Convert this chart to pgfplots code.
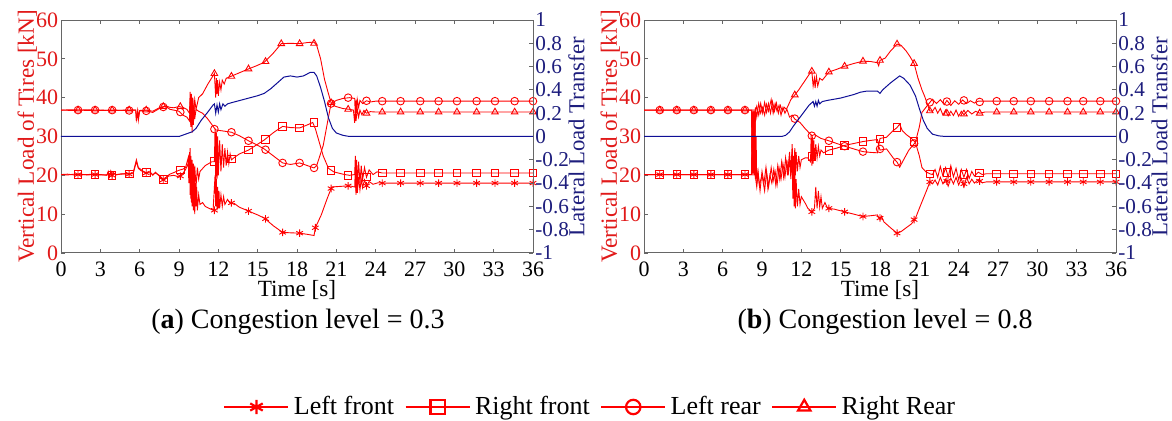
\documentclass[border=0pt]{standalone}
\usepackage{pgfplots}
\pgfplotsset{compat=1.18}
\usepackage{fontspec}
\setmainfont{Liberation Serif}
\definecolor{cred}{RGB}{255,0,0}
\definecolor{tred}{RGB}{225,25,25}
\definecolor{cblue}{RGB}{15,15,150}
\definecolor{tblue}{RGB}{30,30,125}
\pgfplotsset{
  panel/.style={scale only axis, width=236pt, height=116.5pt, xmin=0, xmax=36,
    /pgf/number format/assume math mode=true,
    tick align=inside, major tick length=2.2pt,
    every tick/.style={black!60, line width=0.4pt},
    axis line style={black!60, line width=0.5pt},
    tick label style={font=\fontsize{11}{12}\selectfont},
    label style={font=\fontsize{11.6}{13}\selectfont}},
  leftpanel/.style={panel, ymin=0, ymax=60, ytick={0,10,...,60}, xtick={0,3,...,36},
    axis y line*=left, yticklabel style={text=tred, inner xsep=1.2pt},
    xticklabel style={yshift=-1pt},
    every axis y label/.style={at={(axis description cs:-0.036,0.5)}, rotate=90, anchor=south,
      text=tred, font=\fontsize{11.6}{13}\selectfont},
    xlabel={Time [s]}, ylabel={Vertical Load of Tires [kN]},
    xlabel style={yshift=5pt}},
  rightpanel/.style={panel, ymin=-1, ymax=1,
    ytick={-1,-0.8,-0.6,-0.4,-0.2,0,0.2,0.4,0.6,0.8,1},
    axis y line*=right, axis x line=none,
    yticklabel style={text=tblue, inner xsep=1pt, font=\fontsize{10.6}{12}\selectfont},
    every axis y label/.style={at={(axis description cs:1.06,0.5)}, rotate=90, anchor=north,
      text=tblue, font=\fontsize{11.4}{13}\selectfont},
    ylabel={Lateral Load Transfer}},
  ln/.style={cred, line width=0.45pt, no markers, forget plot},
  mk/.style={cred, only marks, mark size=1.9pt, forget plot, mark options={line width=0.45pt, solid}},
  legimg/.style={cred, line width=1.4pt, mark size=3.6pt, mark options={line width=1.1pt, solid}},
}
\begin{document}
\begin{tikzpicture}
\useasboundingbox (0,0) rectangle (586pt,210.5pt);
% ---------------- panel (a) ----------------
\begin{axis}[leftpanel, at={(30.5pt,84pt)}, anchor=south west,
  legend columns=4,
  legend style={draw=none, fill=none, font=\fontsize{13}{14}\selectfont,
    at={(1.123,-0.661)}, anchor=center,
    /tikz/every even column/.append style={column sep=3pt}},
  legend image code/.code={\draw[mark repeat=2,mark phase=2,#1] plot coordinates {(0pt,0pt)(16pt,0pt)(32pt,0pt)};}]
\addlegendimage{legimg, mark=asterisk}\addlegendentry{Left front}
\addlegendimage{legimg, mark=square}\addlegendentry{Right front}
\addlegendimage{legimg, mark=o}\addlegendentry{Left rear}
\addlegendimage{legimg, mark=triangle}\addlegendentry{Right Rear}
% Left front
\addplot[ln] coordinates {(0,20.2)(0.5,20.3)(1,20.1)(1.5,20.3)(2,20.1)(2.5,20.2)(3,20.2)(3.5,20.0)(3.6,21.0)(3.7,19.6)(3.8,20.9)(3.9,19.8)(4.0,20.7)(4.2,20.1)(4.6,20.4)(5.0,20.3)(5.5,20.6)(5.75,24.0)(5.9,22.0)(6.1,21.5)(6.4,20.6)(6.8,20.9)(7.0,20.0)(7.2,20.8)(7.5,19.8)(7.8,18.7)(8.0,19.2)(8.2,19.8)(8.6,20.0)(9.0,19.6)(9.3,20.5)(9.5,21.5)(9.7,23)(9.8,19.5)(9.85,27)(9.9,14)(9.95,24)(10.0,12)(10.05,22)(10.1,11)(10.15,20)(10.2,10)(10.25,18)(10.3,12)(10.35,17)(10.4,11)(10.5,15)(10.6,12.5)(10.8,13)(11.0,12)(11.3,11.5)(11.6,11)(11.75,20)(11.8,12)(11.85,19)(11.9,11)(11.95,17)(12.0,11.5)(12.05,16)(12.1,11.5)(12.2,15)(12.3,12)(12.4,14.5)(12.5,12.5)(12.7,13.8)(12.9,12.8)(13.2,12.8)(13.6,11.8)(14.3,10.8)(15.0,9.8)(15.5,9.0)(16.2,7.0)(16.9,5.3)(17.5,5.2)(18.2,5.1)(18.8,4.8)(19.3,4.5)(19.4,6.5)(19.85,9.8)(20.3,14)(20.65,17)(21.5,17.2)(22.0,17.3)(22.4,17.0)(22.45,22)(22.5,15)(22.55,20.5)(22.6,15.5)(22.7,19.5)(22.8,16.2)(22.9,19.0)(23.0,16.8)(23.15,18.8)(23.3,17.2)(23.5,18.4)(23.8,17.7)(24.2,18.1)(24.5,18.0)(36,18.0)};
\addplot[mk, mark=asterisk] coordinates {(1.3,20.2)(2.6,20.2)(3.9,20.0)(5.2,20.3)(6.5,20.6)(7.8,18.8)(9.1,19.8)(11.7,11.0)(13.0,12.9)(14.3,10.8)(15.6,8.8)(16.9,5.3)(18.2,5.1)(19.4,6.5)(20.6,16.6)(21.9,17.3)(23.3,17.3)(24.5,18)(25.9,18)(27.4,18)(28.8,18)(30.2,18)(31.7,18)(33.1,18)(34.6,18)(36,18)};
% Right front
\addplot[ln] coordinates {(0,20.2)(0.5,20.1)(1,20.3)(1.5,20.1)(2,20.2)(2.5,20.3)(3,20.1)(3.5,20.1)(3.6,20.8)(3.7,19.7)(3.8,21.1)(3.9,19.9)(4.0,20.6)(4.2,20.2)(4.6,20.3)(5.0,20.5)(5.5,20.4)(5.75,23.5)(5.9,21.8)(6.1,21.2)(6.4,20.8)(6.8,20.6)(7.0,20.2)(7.2,20.6)(7.5,20.0)(7.8,19.0)(8.0,19.5)(8.3,20.3)(8.6,20.7)(9.0,21.3)(9.3,21.6)(9.5,22)(9.7,24.5)(9.75,18)(9.8,26)(9.85,15)(9.9,25)(9.95,13)(10.0,24)(10.05,14)(10.1,23)(10.15,15.5)(10.2,22.5)(10.3,17)(10.4,22)(10.5,19)(10.6,21)(11.0,22.5)(11.5,23.5)(11.7,23.5)(11.75,32)(11.8,18)(11.85,31)(11.9,19)(11.95,30)(12.0,20)(12.1,29)(12.2,21)(12.3,28)(12.4,22)(12.5,27)(12.6,22.5)(12.7,26)(12.8,23)(12.9,25.5)(13.0,24)(13.3,24.8)(13.6,25.5)(14.3,26.5)(14.9,27.8)(15.5,29.1)(16.2,31)(16.9,32.6)(17.5,32.3)(18.2,32.2)(18.8,33.0)(19.2,33.6)(19.4,32)(20.0,25)(20.4,21.8)(20.8,20.9)(21.5,20.3)(22.0,20.0)(22.4,20.2)(22.45,25)(22.5,16)(22.55,24)(22.6,17)(22.7,23.5)(22.8,18)(22.9,22.5)(23.0,18.8)(23.15,22)(23.3,19.5)(23.5,21.4)(23.8,20.2)(24.1,20.9)(24.5,20.6)(36,20.6)};
\addplot[mk, mark=square] coordinates {(1.3,20.2)(2.6,20.2)(3.9,20.0)(5.2,20.4)(6.5,20.8)(7.8,19.0)(9.1,21.4)(11.7,23.5)(13.0,24.2)(14.3,26.5)(15.6,29.3)(16.9,32.6)(18.2,32.2)(19.3,33.6)(20.6,21.2)(21.9,20.0)(23.3,19.6)(24.5,20.6)(25.9,20.6)(27.4,20.6)(28.8,20.6)(30.2,20.6)(31.7,20.6)(33.1,20.6)(34.6,20.6)(36,20.6)};
% Left rear
\addplot[ln] coordinates {(0,36.8)(1,36.7)(2,36.9)(3,36.7)(4,36.8)(5,36.7)(5.7,36.8)(5.75,34)(5.85,36.5)(5.9,34.2)(6.0,36.6)(6.5,36.6)(7.0,36.2)(7.5,37.2)(8.0,37.8)(8.3,37.0)(8.6,36.8)(9.0,36.5)(9.3,35.5)(9.6,35)(9.8,34)(9.85,39)(9.9,32.5)(9.95,40.5)(10.0,31)(10.05,39.5)(10.1,33)(10.15,38)(10.2,34.5)(10.3,37)(10.5,36.5)(10.8,36)(11.2,34.5)(11.8,31.7)(12.4,31.4)(13.0,31.1)(13.6,30.2)(14.3,28.9)(14.9,27.9)(15.5,26.8)(16.2,25)(16.9,23.2)(17.5,22.8)(18.2,23.2)(18.8,22.5)(19.3,21.9)(19.5,22.5)(20.0,27.7)(20.4,35)(20.6,38.5)(21.0,39.3)(21.5,39.8)(22.0,40.0)(22.4,39.8)(22.45,35)(22.5,39.5)(22.55,36)(22.6,39.5)(22.7,37.5)(22.8,39.3)(23.0,38.5)(23.3,39.2)(23.6,38.9)(24,39.1)(36,39.1)};
\addplot[mk, mark=o] coordinates {(1.3,36.8)(2.6,36.8)(3.9,36.8)(5.2,36.7)(6.5,36.6)(7.8,37.6)(9.1,36.3)(11.7,31.9)(13.0,31.1)(14.3,28.9)(15.6,26.6)(16.9,23.2)(18.2,23.2)(19.3,21.9)(20.6,38.5)(21.9,40.0)(23.3,39.2)(24.5,39.1)(25.9,39.1)(27.4,39.1)(28.8,39.1)(30.2,39.1)(31.7,39.1)(33.1,39.1)(34.6,39.1)(36,39.1)};
% Right rear
\addplot[ln] coordinates {(0,36.8)(1,36.9)(2,36.7)(3,36.8)(4,36.7)(5,36.8)(5.7,36.8)(5.75,34.5)(5.85,36.6)(5.9,34.8)(6.0,36.7)(6.5,36.8)(7.0,36.5)(7.5,37.4)(8.0,37.9)(8.3,37.5)(8.6,37.4)(9.0,37.7)(9.3,37.5)(9.6,37)(9.8,36)(9.85,41.5)(9.9,33)(9.95,41)(10.0,34)(10.05,40)(10.1,35)(10.2,39.5)(10.3,37)(10.5,40)(10.8,41)(11.2,43.5)(11.7,46.2)(11.8,40)(11.85,45)(11.9,41)(11.95,44.5)(12.0,40.5)(12.1,44)(12.2,42)(12.3,44.5)(12.45,43.5)(12.6,45)(12.9,45.4)(13.6,46.4)(14.3,47.4)(14.9,48.2)(15.5,49.1)(16.2,51.5)(16.8,53.9)(17.5,54)(18.2,53.9)(18.8,54.2)(19.3,54.3)(19.5,53.5)(19.8,50)(20.1,44.7)(20.4,41)(20.6,38.7)(20.9,37.8)(21.5,37.2)(22.0,37.0)(22.3,36.8)(22.4,33.5)(22.45,36.5)(22.5,34)(22.6,37)(22.7,35)(22.8,36.8)(22.95,35.6)(23.1,36.7)(23.3,36.0)(23.6,36.4)(24,36.3)(36,36.3)};
\addplot[mk, mark=triangle] coordinates {(1.3,36.8)(2.6,36.8)(3.9,36.8)(5.2,36.8)(6.5,36.8)(7.8,37.7)(9.1,37.7)(11.7,46.2)(13.0,45.5)(14.3,47.4)(15.6,49.3)(16.8,53.9)(18.2,53.9)(19.3,54.0)(20.6,38.7)(21.9,37.0)(23.3,36.0)(24.5,36.3)(25.9,36.3)(27.4,36.3)(28.8,36.3)(30.2,36.3)(31.7,36.3)(33.1,36.3)(34.6,36.3)(36,36.3)};
\end{axis}
\begin{axis}[rightpanel, at={(30.5pt,84pt)}, anchor=south west]
\addplot[cblue, line width=0.5pt, no markers] coordinates {(0,0)(9.0,0)(9.5,0.02)(10.0,0.04)(10.3,0.07)(10.7,0.14)(11.2,0.21)(11.6,0.27)(11.7,0.28)(11.8,0.2)(11.9,0.27)(12.0,0.21)(12.1,0.28)(12.2,0.23)(12.35,0.28)(12.5,0.26)(12.7,0.28)(13.0,0.29)(14.0,0.32)(15.0,0.35)(15.5,0.37)(16.0,0.41)(16.5,0.46)(17.0,0.51)(17.5,0.52)(18.0,0.51)(18.5,0.52)(19.0,0.55)(19.3,0.55)(19.5,0.52)(19.8,0.42)(20.1,0.3)(20.4,0.16)(20.7,0.07)(21.0,0.03)(21.5,0.01)(22,0)(36,0)};
\end{axis}
% ---------------- panel (b) ----------------
\begin{axis}[leftpanel, at={(322pt,84pt)}, anchor=south west]
% Left front
\addplot[ln] coordinates {(0,20.2)(8.2,20.2)(8.25,28)(8.3,20)(8.35,36)(8.4,22)(8.45,35)(8.5,19)(8.55,30)(8.6,18)(8.7,21)(8.8,17.5)(9.0,20)(9.2,16)(9.35,21)(9.5,17)(9.7,22)(9.85,18.5)(10.0,21)(10.15,17.5)(10.3,22)(10.45,19)(10.6,23)(10.75,19.5)(10.9,24)(11.0,20)(11.1,25)(11.2,19)(11.3,26)(11.35,14)(11.4,25)(11.45,12)(11.5,22)(11.55,11.5)(11.6,19)(11.7,12)(11.8,16.5)(11.9,12.5)(12.0,14.5)(12.3,12.8)(12.5,11.5)(12.8,10.6)(13.0,11.5)(13.1,17)(13.2,11.5)(13.3,16)(13.4,11.8)(13.5,14.5)(13.6,11.5)(13.8,13)(14.0,11.5)(14.5,11.3)(15.3,10.6)(16.0,10)(16.7,9.4)(17.3,9.6)(17.8,9.8)(18.0,8.5)(18.1,9.5)(18.3,8.0)(18.8,6.5)(19.3,5.1)(19.6,5.5)(20.0,6.5)(20.4,7.5)(20.7,8.9)(21.0,11.5)(21.3,14)(21.6,16.5)(21.8,18.3)(22.0,17.8)(22.2,18.8)(22.4,17.5)(22.6,19.5)(22.8,17.8)(23.0,19)(23.2,17.2)(23.4,19.3)(23.6,17.8)(23.8,19.5)(24.0,17.5)(24.2,19.2)(24.4,17)(24.6,19.5)(24.8,17.8)(25.0,19)(25.2,18)(25.5,18.9)(25.8,18.1)(26.1,18.3)(36,18.3)};
\addplot[mk, mark=asterisk] coordinates {(1.2,20.2)(2.5,20.2)(3.8,20.2)(5.1,20.2)(6.4,20.2)(7.7,20.2)(12.8,10.6)(14.1,11.5)(15.3,10.6)(16.7,9.4)(18.0,9.0)(19.3,5.1)(20.6,8.6)(21.8,18.3)(23.1,18.5)(24.4,17.8)(25.6,18.5)(26.9,18.3)(28.2,18.3)(29.5,18.3)(30.9,18.3)(32.3,18.3)(33.5,18.3)(34.8,18.3)(36,18.3)};
% Right front
\addplot[ln] coordinates {(0,20.2)(8.2,20.2)(8.25,36)(8.3,21)(8.35,30)(8.4,20)(8.45,26)(8.5,19.5)(8.6,17)(8.7,20.5)(8.85,16)(9.0,21)(9.15,18)(9.3,22)(9.45,16.5)(9.6,20)(9.75,18)(9.9,21.5)(10.05,17.5)(10.2,22.5)(10.35,19)(10.5,23.5)(10.65,19.5)(10.8,24.5)(10.95,20)(11.1,26)(11.2,20.5)(11.3,28)(11.4,18)(11.5,27)(11.55,20)(11.6,26)(11.7,21)(11.8,25)(11.9,22)(12.0,24)(12.3,24.5)(12.5,24.5)(12.7,23.5)(12.75,30.5)(12.8,22.5)(12.85,30)(12.9,23)(12.95,29)(13.0,24)(13.1,28)(13.2,24.5)(13.3,27.5)(13.4,25)(13.5,26.5)(13.7,25.8)(14.1,26.5)(14.7,27)(15.3,27.7)(16.0,28.2)(16.7,28.7)(17.3,29)(17.8,29.2)(17.9,27.8)(18.0,29.5)(18.5,29.8)(19.0,31.5)(19.3,32.3)(19.5,33.2)(19.7,31.5)(20.0,30.5)(20.4,29.5)(20.7,28.5)(21.0,25)(21.2,22)(21.5,20.9)(21.8,20.4)(22.0,20.2)(22.2,21.5)(22.4,19.5)(22.6,22.3)(22.8,19.8)(23.0,22)(23.2,19.5)(23.4,22.5)(23.6,19.6)(23.8,21.8)(24.0,18.8)(24.2,21.5)(24.4,19.5)(24.6,21.5)(24.8,19.2)(25.0,21.0)(25.2,19.8)(25.5,20.8)(25.8,20.2)(26.1,20.4)(36,20.4)};
\addplot[mk, mark=square] coordinates {(1.2,20.2)(2.5,20.2)(3.8,20.2)(5.1,20.2)(6.4,20.2)(7.7,20.2)(12.8,24.8)(14.1,26.4)(15.3,27.7)(16.7,28.7)(18.0,29.4)(19.3,32.3)(20.6,28.7)(21.8,20.4)(23.1,20.7)(24.4,20.3)(25.6,20.6)(26.9,20.4)(28.2,20.4)(29.5,20.4)(30.9,20.4)(32.3,20.4)(33.5,20.4)(34.8,20.4)(36,20.4)};
% Left rear
\addplot[ln] coordinates {(0,36.8)(8.2,36.8)(8.25,20.5)(8.3,37)(8.35,22)(8.4,36)(8.45,27)(8.5,37.5)(8.6,35)(8.75,38.5)(8.9,36)(9.05,37.5)(9.2,35.5)(9.35,38.3)(9.5,36.5)(9.7,39.5)(9.85,36)(10.0,38.5)(10.15,36.5)(10.3,38)(10.45,35.5)(10.6,37.5)(10.75,36)(10.9,37)(11.1,35)(11.3,35.5)(11.5,34.5)(11.9,33.6)(12.3,32)(12.8,30.2)(13.0,30.5)(13.5,29.5)(14.1,28.9)(14.7,28.2)(15.3,27.5)(16.0,26.8)(16.7,26.1)(17.3,25.9)(17.8,25.8)(17.9,27.5)(18.0,26.5)(18.5,26.8)(19.0,24.5)(19.3,23.4)(19.5,22.1)(19.8,24)(20.2,26.5)(20.7,28.5)(21.0,32.5)(21.2,36.2)(21.5,37.5)(22.0,39.6)(22.3,38.5)(22.6,39.5)(22.9,38.2)(23.1,39.3)(23.4,38.0)(23.7,39.2)(24.0,38.3)(24.3,39.4)(24.6,38.5)(24.9,39.2)(25.2,38.6)(25.5,39.1)(36,39.1)};
\addplot[mk, mark=o] coordinates {(1.2,36.8)(2.5,36.8)(3.8,36.8)(5.1,36.8)(6.4,36.8)(7.7,36.8)(11.5,34.6)(12.8,30.2)(14.1,28.9)(15.3,27.5)(16.7,26.1)(18.0,26.8)(19.3,23.4)(20.6,28.2)(21.8,38.8)(23.1,39.0)(24.4,39.3)(25.6,38.9)(26.9,39.1)(28.2,39.1)(29.5,39.1)(30.9,39.1)(32.3,39.1)(33.5,39.1)(34.8,39.1)(36,39.1)};
% Right rear
\addplot[ln] coordinates {(0,36.8)(8.2,36.8)(8.25,22)(8.3,36.5)(8.35,20.5)(8.4,37)(8.45,25)(8.5,36.5)(8.6,37.8)(8.75,35.5)(8.9,38.5)(9.05,36)(9.2,38.8)(9.35,36.2)(9.5,38.5)(9.65,36)(9.8,39)(9.95,36.5)(10.1,38.6)(10.25,36)(10.4,38)(10.55,36.5)(10.7,37.5)(10.85,37)(11.0,38)(11.2,39.5)(11.5,40.7)(11.8,42)(12.2,44)(12.6,46)(12.8,46.8)(12.9,43)(13.0,45)(13.05,42.5)(13.15,45.5)(13.25,43)(13.4,45)(13.6,44.5)(14.1,46.6)(14.7,47.3)(15.3,48.1)(16.0,48.8)(16.7,49.4)(17.3,49.3)(17.8,49.0)(17.9,48.2)(18.0,49.6)(18.4,50.2)(18.8,52)(19.3,53.8)(19.6,53.5)(20.0,52)(20.3,50.5)(20.6,48.8)(20.9,45)(21.2,42)(21.4,40.4)(21.8,36.6)(22.0,36.5)(22.2,37.5)(22.4,36.0)(22.6,37.2)(22.8,35.5)(23.0,36.8)(23.2,35.3)(23.4,36.5)(23.6,35.4)(23.8,36.8)(24.0,35.2)(24.2,36.5)(24.4,35.6)(24.7,36.7)(25.0,35.8)(25.3,36.5)(25.6,36.0)(26.0,36.3)(36,36.3)};
\addplot[mk, mark=triangle] coordinates {(1.2,36.8)(2.5,36.8)(3.8,36.8)(5.1,36.8)(6.4,36.8)(7.7,36.8)(11.5,40.7)(12.8,46.8)(14.1,46.6)(15.3,48.1)(16.7,49.4)(18.0,49.6)(19.3,53.8)(20.6,48.8)(21.8,36.6)(23.1,36.0)(24.4,35.8)(25.6,36.0)(26.9,36.3)(28.2,36.3)(29.5,36.3)(30.9,36.3)(32.3,36.3)(33.5,36.3)(34.8,36.3)(36,36.3)};
\end{axis}
\begin{axis}[rightpanel, at={(322pt,84pt)}, anchor=south west]
\addplot[cblue, line width=0.5pt, no markers] coordinates {(0,0)(10.5,0)(10.8,0.01)(11.1,0.04)(11.4,0.09)(11.8,0.15)(12.2,0.21)(12.6,0.27)(12.9,0.3)(13.0,0.26)(13.1,0.3)(13.2,0.26)(13.3,0.31)(13.4,0.28)(13.6,0.3)(14.0,0.31)(15.0,0.33)(16.0,0.36)(16.5,0.38)(17.0,0.39)(17.8,0.39)(18.0,0.37)(18.2,0.40)(18.8,0.46)(19.5,0.52)(19.8,0.5)(20.3,0.44)(20.7,0.35)(21.0,0.24)(21.3,0.14)(21.6,0.07)(22.0,0.02)(22.5,0.005)(23,0)(36,0)};
\end{axis}
% captions
\node[font=\fontsize{14}{16}\selectfont] at (149pt,49.5pt) {(\textbf{a}) Congestion level = 0.3};
\node[font=\fontsize{14}{16}\selectfont] at (442.5pt,49.5pt) {(\textbf{b}) Congestion level = 0.8};
\end{tikzpicture}
\end{document}
